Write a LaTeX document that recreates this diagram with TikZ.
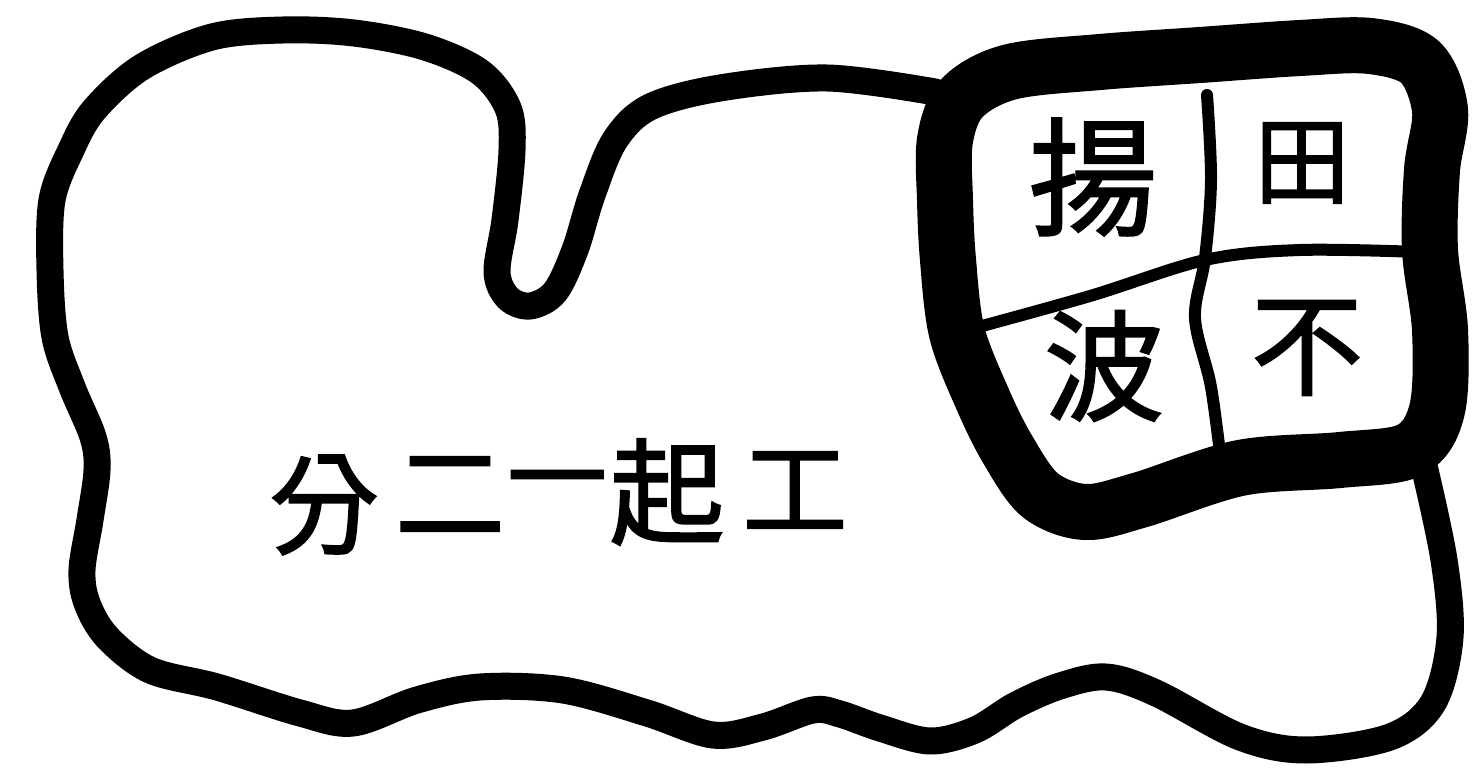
\documentclass[tikz,border=0pt]{standalone}
\usepackage{fontspec}
\newfontfamily\cjk[RawFeature={embolden=1.6}]{Noto Sans CJK TC}
\tikzset{
  outline/.style={line width=27pt, line cap=round, line join=round},
  boxline/.style={line width=56pt, line join=round},
  divider/.style={line width=12pt, line cap=round, line join=round},
  glyph/.style={inner sep=0pt},
}
\begin{document}
\begin{tikzpicture}[x=1pt,y=-1pt]
\useasboundingbox (0,0) rectangle (1473,770);
% outer outline (open; both ends run into the heavy box)
\draw[outline] plot[smooth, tension=0.55] coordinates {
 (1425,470) (1444,560) (1450,637) (1433,703) (1390,737) (1306,750)
 (1240,737) (1156,693) (1106,677) (1060,686) (1016,705) (975,730)
 (930,741) (880,728) (840,714) (813,710) (763,727) (713,735)
 (647,713) (563,690) (480,687) (417,700) (353,723) (300,713)
 (217,687) (150,670) (107,637) (87,603) (82,570) (90,520) (97,470)
 (93,437) (72,387) (55,337) (50,270) (52,200) (71,150) (94,110)
 (142,67) (212,37) (283,30) (354,33) (425,47) (480,72) (508,108)
 (512,150) (505,220) (497,272) (508,298) (530,306) (555,292)
 (575,250) (592,195) (615,140) (650,107) (720,88) (827,78) (935,92)};
% heavy box
\draw[boxline] plot[smooth cycle, tension=0.55] coordinates {
 (945,140) (945,200) (948,260) (957,333) (983,400) (1008,450)
 (1040,495) (1085,512) (1140,500) (1240,468) (1340,460) (1410,450)
 (1437,410) (1440,330) (1430,250) (1432,170) (1440,110) (1420,62)
 (1370,46) (1300,48) (1200,55) (1100,62) (1010,72) (962,98)};
% dividers
\draw[divider] plot[smooth, tension=0.55] coordinates {
 (1207,95) (1211,180) (1205,258) (1195,318) (1211,387) (1222,470)};
\draw[divider] plot[smooth, tension=0.55] coordinates {
 (960,332) (1090,296) (1205,260) (1300,250) (1420,252)};
% box characters
\node[glyph, font=\cjk\fontsize{128}{128}\selectfont] (yang) at (1093,177) {揚};
\node[glyph, font=\cjk\fontsize{96}{96}\selectfont] (tian) at (1302,163) {田};
\node[glyph, font=\cjk\fontsize{120}{120}\selectfont] (bo) at (1104,366) {波};
\node[glyph, font=\cjk\fontsize{112}{112}\selectfont] (bu) at (1307,348) {不};
% label
\node[glyph, font=\cjk\fontsize{110}{110}\selectfont] (fen) at (324,505) {分};
\node[glyph, font=\cjk\fontsize{110}{110}\selectfont] (er) at (450,495) {二};
\node[glyph, font=\cjk\fontsize{100}{100}\selectfont] (yi) at (557,492) {一};
\node[glyph, font=\cjk\fontsize{115}{115}\selectfont] (qi) at (667,492) {起};
\node[glyph, font=\cjk\fontsize{105}{105}\selectfont] (gong) at (795,490) {工};
\end{tikzpicture}
\end{document}
